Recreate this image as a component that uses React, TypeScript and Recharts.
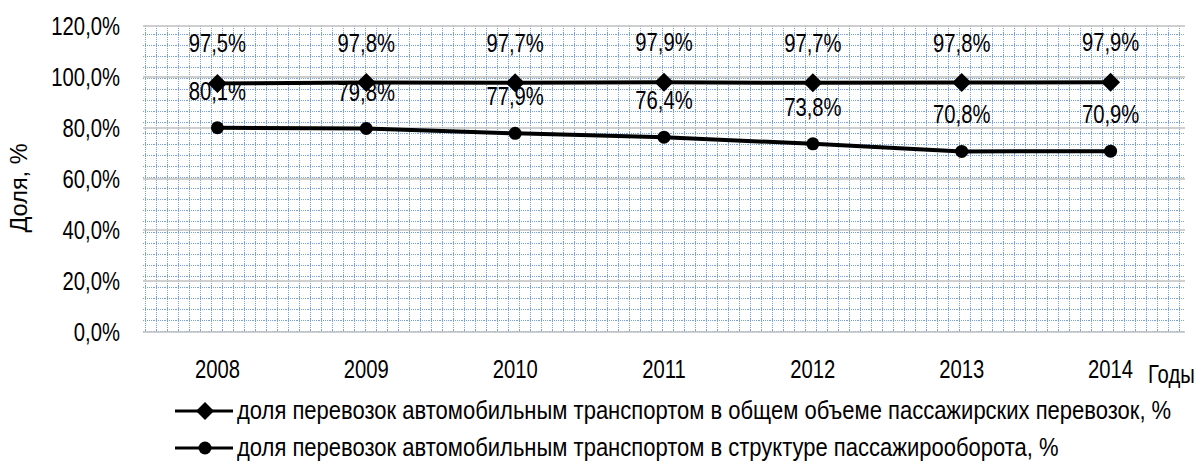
import {
  CartesianGrid,
  LabelList,
  Legend,
  Line,
  LineChart,
  XAxis,
  YAxis,
} from "recharts";

const years = ["2008", "2009", "2010", "2011", "2012", "2013", "2014"];
const shareOfTraffic = [97.5, 97.8, 97.7, 97.9, 97.7, 97.8, 97.9];
const shareOfTurnover = [80.1, 79.8, 77.9, 76.4, 73.8, 70.8, 70.9];
const yTicks = [0, 20, 40, 60, 80, 100, 120];

const trafficName =
  "доля перевозок автомобильным транспортом в общем объеме пассажирских перевозок, %";
const turnoverName =
  "доля перевозок автомобильным транспортом в структуре пассажирооборота, %";

const data = years.map((year, i) => ({
  year,
  traffic: shareOfTraffic[i],
  turnover: shareOfTurnover[i],
}));

const font = "'Liberation Sans', Arial, sans-serif";
const FS = 25;
const SX = 0.81; // the source text is narrow, squeeze it

const fmt = (v: number) => v.toFixed(1).replace(".", ",") + "%";

// narrow text helper
function NText({ x, y, anchor = "middle", dy = 0, children }: any) {
  return (
    <text
      transform={`translate(${x},${y}) scale(${SX},1)`}
      textAnchor={anchor}
      dy={dy}
      fontSize={FS}
      fontFamily={font}
      fill="#000"
    >
      {children}
    </text>
  );
}

function Diamond(props: any) {
  const { cx, cy } = props;
  if (cx == null || cy == null) return null;
  return (
    <path
      key={props.index}
      d={`M${cx} ${cy - 9.5} L${cx + 9.5} ${cy} L${cx} ${cy + 9.5} L${cx - 9.5} ${cy} Z`}
      fill="#000"
    />
  );
}

function Dot(props: any) {
  const { cx, cy } = props;
  if (cx == null || cy == null) return null;
  return <circle key={props.index} cx={cx} cy={cy} r={6.5} fill="#000" />;
}

function trafficLabel(props: any) {
  const { x, y, value } = props;
  return <NText x={x} y={y - 31}>{fmt(Number(value))}</NText>;
}

function turnoverLabel(props: any) {
  const { x, y, value } = props;
  return <NText x={x} y={y - 28}>{fmt(Number(value))}</NText>;
}

function XTick(props: any) {
  const { x, y, payload } = props;
  return <NText x={x} y={y} dy="0.71em">{payload.value}</NText>;
}

function YTick(props: any) {
  const { x, y, payload } = props;
  return <NText x={x} y={y} anchor="end" dy="0.355em">{fmt(payload.value)}</NText>;
}

function LegendBox() {
  const rows = [
    { name: trafficName, marker: "diamond" },
    { name: turnoverName, marker: "circle" },
  ];
  return (
    <div style={{ fontFamily: font, fontSize: FS, color: "#000", lineHeight: 1 }}>
      {rows.map((r) => (
        <div key={r.name} style={{ display: "flex", alignItems: "center", height: 37 }}>
          <svg width={60} height={22} style={{ marginLeft: 174, flex: "none" }}>
            <line x1={1} y1={11} x2={59} y2={11} stroke="#000" strokeWidth={3} />
            {r.marker === "diamond" ? (
              <path d="M31 2 L40 11 L31 20 L22 11 Z" fill="#000" />
            ) : (
              <circle cx={31} cy={11} r={6.5} fill="#000" />
            )}
          </svg>
          <span
            style={{
              marginLeft: 3,
              whiteSpace: "nowrap",
              display: "inline-block",
              transform: "scaleX(0.88)",
              transformOrigin: "left center",
            }}
          >
            {r.name}
          </span>
        </div>
      ))}
    </div>
  );
}

export default function App() {
  return (
    <div style={{ position: "absolute", left: 0, top: 0, background: "#fff" }}>
      <LineChart
        width={1199}
        height={463}
        data={data}
        margin={{ top: 26, right: 14, bottom: 71, left: 0 }}
      >
        <defs>
          <pattern id="paper" width={11} height={11} patternUnits="userSpaceOnUse">
            <rect width={11} height={11} fill="#fff" />
            <line x1={0} y1={1.5} x2={11} y2={1.5} stroke="#7aa2e0" strokeWidth={1} strokeDasharray="1 1" />
            <line x1={2.5} y1={0} x2={2.5} y2={11} stroke="#7aa2e0" strokeWidth={1} strokeDasharray="1 1" />
          </pattern>
        </defs>
        <CartesianGrid fill="url(#paper)" stroke="none" vertical={false} horizontal={false} />
        <CartesianGrid stroke="#bfbfbf" strokeWidth={1.5} vertical={false} />
        <XAxis
          dataKey="year"
          scale="band"
          height={60}
          tickLine={false}
          tickSize={0}
          tickMargin={28}
          axisLine={false}
          tick={XTick}
          label={{
            content: (p: any) => {
              const vb = p.viewBox;
              return (
                <NText x={vb.x + vb.width - 37} y={vb.y + 51} anchor="start">
                  Годы
                </NText>
              );
            },
          }}
        />
        <YAxis
          domain={[0, 120]}
          ticks={yTicks}
          width={143}
          tickLine={false}
          tickSize={0}
          tickMargin={23}
          axisLine={false}
          tick={YTick}
          label={{
            content: (p: any) => {
              const vb = p.viewBox;
              const cy = vb.y + vb.height / 2 + 9;
              return (
                <text
                  x={27}
                  y={cy}
                  transform={`rotate(-90 27 ${cy})`}
                  textAnchor="middle"
                  fontSize={23.5}
                  fontFamily={font}
                  fill="#000"
                >
                  Доля, %
                </text>
              );
            },
          }}
        />
        <Legend
          layout="horizontal"
          verticalAlign="middle"
          align="center"
          content={() => <LegendBox />}
          wrapperStyle={{ position: "absolute", left: 0, top: 392, width: 1199 }}
        />
        <Line
          type="linear"
          dataKey="traffic"
          name={trafficName}
          stroke="#000"
          strokeWidth={4}
          dot={Diamond}
          activeDot={false}
          isAnimationActive={false}
        >
          <LabelList dataKey="traffic" content={trafficLabel} />
        </Line>
        <Line
          type="linear"
          dataKey="turnover"
          name={turnoverName}
          stroke="#000"
          strokeWidth={4}
          dot={Dot}
          activeDot={false}
          isAnimationActive={false}
        >
          <LabelList dataKey="turnover" content={turnoverLabel} />
        </Line>
      </LineChart>
    </div>
  );
}
